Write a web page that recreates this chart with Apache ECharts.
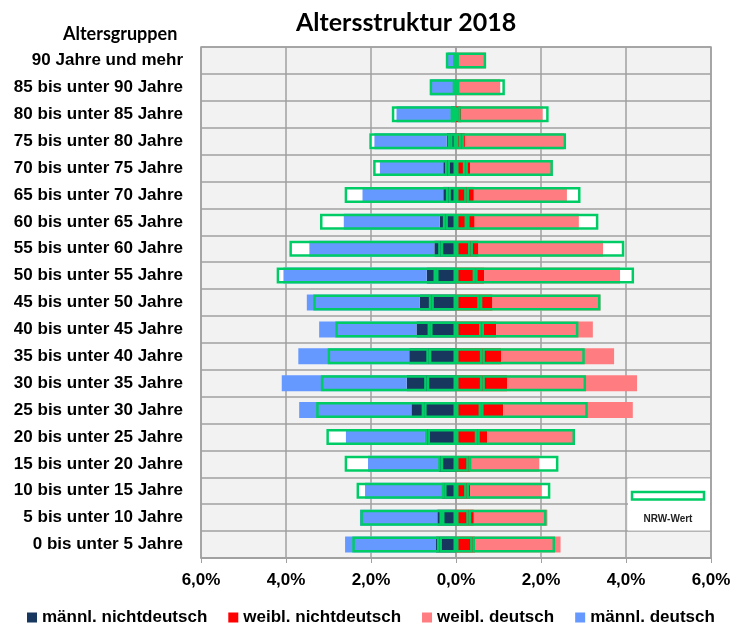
<!DOCTYPE html>
<html>
<head>
<meta charset="utf-8">
<title>Altersstruktur 2018</title>
<script src="https://cdn.jsdelivr.net/npm/echarts/dist/echarts.min.js"></script>
<style>
  html, body { margin: 0; padding: 0; background: #fff; }
  #chart { width: 734px; height: 629px; }
</style>
</head>
<body>
<div id="chart"></div>
<script>
// Altersgruppen, von oben nach unten
const ageGroups = [
  '90 Jahre und mehr', '85 bis unter 90 Jahre', '80 bis unter 85 Jahre',
  '75 bis unter 80 Jahre', '70 bis unter 75 Jahre', '65 bis unter 70 Jahre',
  '60 bis unter 65 Jahre', '55 bis unter 60 Jahre', '50 bis unter 55 Jahre',
  '45 bis unter 50 Jahre', '40 bis unter 45 Jahre', '35 bis unter 40 Jahre',
  '30 bis unter 35 Jahre', '25 bis unter 30 Jahre', '20 bis unter 25 Jahre',
  '15 bis unter 20 Jahre', '10 bis unter 15 Jahre', '5 bis unter 10 Jahre',
  '0 bis unter 5 Jahre'
];

// Anteile in % (Stadt)
const maleForeign   = [0.01, 0.02, 0.12, 0.22, 0.30, 0.30, 0.38, 0.51, 0.69, 0.85, 0.93, 1.10, 1.16, 1.05, 0.73, 0.41, 0.34, 0.44, 0.47];
const maleGerman    = [0.19, 0.58, 1.28, 1.70, 1.49, 1.90, 2.26, 2.94, 3.37, 2.66, 2.29, 2.61, 2.94, 2.64, 1.86, 1.66, 1.80, 1.82, 2.14];
const femaleForeign = [0.01, 0.02, 0.13, 0.21, 0.34, 0.42, 0.44, 0.53, 0.66, 0.86, 0.95, 1.07, 1.20, 1.11, 0.74, 0.34, 0.33, 0.42, 0.45];
const femaleGerman  = [0.69, 1.02, 1.91, 2.33, 1.93, 2.19, 2.45, 2.93, 3.20, 2.54, 2.27, 2.65, 3.06, 3.05, 2.05, 1.62, 1.69, 1.73, 2.01];

// NRW-Vergleichswerte in %
const nrwMaleForeign   = [0.01, 0.02, 0.07, 0.14, 0.20, 0.18, 0.25, 0.36, 0.47, 0.58, 0.61, 0.64, 0.69, 0.75, 0.67, 0.36, 0.28, 0.33, 0.39];
const nrwMaleGerman    = [0.23, 0.60, 1.44, 1.90, 1.75, 2.44, 2.95, 3.56, 3.75, 2.78, 2.23, 2.38, 2.49, 2.54, 2.38, 2.26, 2.06, 1.92, 2.05];
const nrwFemaleForeign = [0.01, 0.02, 0.05, 0.13, 0.22, 0.25, 0.26, 0.34, 0.45, 0.56, 0.60, 0.62, 0.62, 0.59, 0.50, 0.30, 0.25, 0.30, 0.39];
const nrwFemaleGerman  = [0.70, 1.13, 2.13, 2.46, 2.06, 2.68, 3.09, 3.62, 3.74, 2.84, 2.28, 2.41, 2.44, 2.51, 2.30, 2.11, 1.97, 1.83, 1.94];

const xTicks = [-6, -4, -2, 0, 2, 4, 6];

const labelFont = 'Liberation Sans, Arial, sans-serif';
const headFont = 'Lato, Noto Sans, sans-serif';
const nrwGreen = '#00cc66';
const gridGray = '#a0a0a0';

const chart = echarts.init(document.getElementById('chart'));

function dataBar(name, values, sign, color) {
  return {
    name: name,
    type: 'bar',
    stack: 'ist',
    barWidth: 16,
    barGap: '-100%',
    z: 3,
    silent: true,
    itemStyle: { color: color },
    data: values.map(v => sign * v)
  };
}

// NRW bars: white fill behind, green outline on top
function nrwBar(name, values, sign, outline) {
  return {
    name: name,
    type: 'bar',
    stack: outline ? 'nrwLine' : 'nrwFill',
    barWidth: 16,
    barGap: '-100%',
    z: outline ? 4 : 2,
    silent: true,
    itemStyle: outline
      ? { color: 'rgba(0,0,0,0)', borderColor: nrwGreen, borderWidth: 2.5 }
      : { color: '#ffffff' },
    data: values.map(v => sign * v)
  };
}

const option = {
  animation: false,
  title: [
    {
      text: 'Altersstruktur 2018',
      left: 291, top: 5,
      textStyle: { fontFamily: headFont, fontWeight: 'bold', fontSize: 25, color: '#000' }
    },
    {
      text: 'Altersgruppen',
      left: 58, top: 20,
      textStyle: { fontFamily: headFont, fontWeight: 'bold', fontSize: 18, color: '#000' }
    }
  ],
  legend: {
    data: ['männl. nichtdeutsch', 'weibl. nichtdeutsch', 'weibl. deutsch', 'männl. deutsch'],
    left: 22,
    top: 604,
    width: 712,
    icon: 'rect',
    itemWidth: 10,
    itemHeight: 10,
    itemGap: 21,
    selectedMode: false,
    textStyle: { fontFamily: labelFont, fontWeight: 'bold', fontSize: 17, color: '#000' }
  },
  grid: {
    left: 201, right: 23, top: 47, bottom: 71,
    show: true,
    backgroundColor: '#f2f2f2',
    borderColor: gridGray,
    borderWidth: 1.5
  },
  xAxis: {
    type: 'value',
    min: xTicks[0],
    max: xTicks[xTicks.length - 1],
    interval: 2,
    axisLine: { show: true, lineStyle: { color: gridGray, width: 1.5 } },
    axisTick: { show: true, length: 5, lineStyle: { color: gridGray } },
    splitLine: { show: true, lineStyle: { color: gridGray, width: 1.5 } },
    axisLabel: {
      margin: 14,
      fontFamily: labelFont, fontWeight: 'bold', fontSize: 17, color: '#000',
      formatter: v => Math.abs(v).toFixed(1).replace('.', ',') + '%'
    }
  },
  yAxis: {
    type: 'category',
    inverse: true,
    data: ageGroups,
    axisLine: { show: true, lineStyle: { color: gridGray, width: 1.5 } },
    axisTick: { show: false },
    splitLine: { show: true, lineStyle: { color: gridGray, width: 1.5 } },
    axisLabel: {
      margin: 18,
      fontFamily: labelFont, fontWeight: 'bold', fontSize: 17, color: '#000'
    }
  },
  graphic: [
    { type: 'rect', z: 10, shape: { x: 628, y: 478.5, width: 82, height: 52 }, style: { fill: '#ffffff' } },
    { type: 'rect', z: 11, shape: { x: 632, y: 492, width: 72, height: 7.5 },
      style: { fill: '#ffffff', stroke: nrwGreen, lineWidth: 2.5 } },
    { type: 'text', z: 11, x: 668, y: 519,
      style: { text: 'NRW-Wert', fill: '#222', font: 'bold 10px Liberation Sans, Arial, sans-serif',
               textAlign: 'center', textVerticalAlign: 'middle' } }
  ],
  series: [
    nrwBar('NRW männl. nichtdeutsch', nrwMaleForeign, -1, false),
    nrwBar('NRW männl. deutsch', nrwMaleGerman, -1, false),
    nrwBar('NRW weibl. nichtdeutsch', nrwFemaleForeign, 1, false),
    nrwBar('NRW weibl. deutsch', nrwFemaleGerman, 1, false),
    dataBar('männl. nichtdeutsch', maleForeign, -1, '#17375e'),
    dataBar('männl. deutsch', maleGerman, -1, '#6699ff'),
    dataBar('weibl. nichtdeutsch', femaleForeign, 1, '#ff0000'),
    dataBar('weibl. deutsch', femaleGerman, 1, '#ff7c80'),
    nrwBar('NRW männl. nichtdeutsch ', nrwMaleForeign, -1, true),
    nrwBar('NRW männl. deutsch ', nrwMaleGerman, -1, true),
    nrwBar('NRW weibl. nichtdeutsch ', nrwFemaleForeign, 1, true),
    nrwBar('NRW weibl. deutsch ', nrwFemaleGerman, 1, true)
  ]
};

chart.setOption(option);
</script>
</body>
</html>
